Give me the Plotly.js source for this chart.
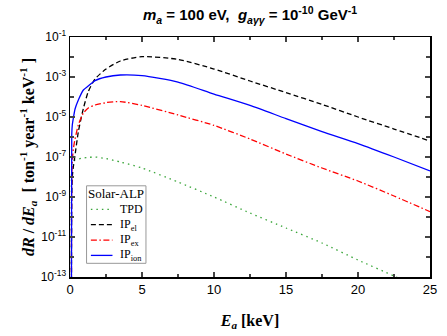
<!DOCTYPE html>
<html>
<head>
<meta charset="utf-8">
<script src="https://cdn.plot.ly/plotly-3.0.1.min.js"></script>
<style>body{margin:0;padding:0;background:#fff;}#chart{width:447px;height:336px;}</style>
</head>
<body>
<div id="chart"></div>
<script>
// Axion energy E_a [keV]
const energy = [0.1, 0.12, 0.16, 0.23, 0.35, 0.58, 0.93, 1.27, 1.74, 2.5, 3.5, 5, 7.5, 10, 12.5, 15, 17.5, 20, 22.5, 25];
// dR/dE_a [ton^-1 year^-1 keV^-1]
const tpd  = [1e-14, 3.98e-8, 5.62e-8, 6.31e-8, 7.08e-8, 7.94e-8, 8.91e-8, 9.55e-8, 1.0e-7, 8.32e-8, 5.62e-8, 2.82e-8, 5.62e-9, 1.0e-9, 1.58e-10, 2.82e-11, 5.01e-12, 7.08e-13, 1.12e-13, 1.58e-14];
const ipEl = [1e-14, 1e-9, 1e-8, 3.16e-8, 1.26e-7, 1.86e-6, 2.69e-5, 1.86e-4, 7.94e-4, 2.51e-3, 6.31e-3, 1.05e-2, 7.59e-3, 2.51e-3, 6.31e-4, 1.66e-4, 4.27e-5, 1.0e-5, 2.51e-6, 6.31e-7];
const ipEx = [1e-14, 1e-8, 6.31e-8, 2.51e-7, 7.94e-7, 3.98e-6, 1.58e-5, 2.82e-5, 3.98e-5, 5.25e-5, 5.89e-5, 3.8e-5, 1.26e-5, 3.8e-6, 7.94e-7, 1.41e-7, 2.82e-8, 6.31e-9, 1.12e-9, 1.86e-10];
const ipIon = [1e-14, 1.26e-6, 3.98e-6, 8.5e-6, 2.51e-5, 7.08e-5, 2.24e-4, 3.55e-4, 6.61e-4, 1.0e-3, 1.26e-3, 1.17e-3, 5.62e-4, 1.41e-4, 3.8e-5, 8.3e-6, 1.86e-6, 4.68e-7, 1.0e-7, 2.0e-8];

const seriesNames = ["TPD", "IP<sub>el</sub>", "IP<sub>ex</sub>", "IP<sub>ion</sub>"];
const seriesColors = ["#3aa63a", "#000000", "#ff0000", "#0000ff"];
const seriesDash = ["1.5px,4px", "5px,3px", "6px,2.5px,1.5px,2.5px", "solid"];
const legendTitle = "Solar-ALP";
const xTickVals = [0, 5, 10, 15, 20, 25];
const yTickVals = [1e-13, 1e-11, 1e-9, 1e-7, 1e-5, 1e-3, 1e-1];
const yTickText = ["10<sup>-13</sup>", "10<sup>-11</sup>", "10<sup>-9</sup>", "10<sup>-7</sup>", "10<sup>-5</sup>", "10<sup>-3</sup>", "10<sup>-1</sup>"];
const yMinorVals = [1e-12, 1e-10, 1e-8, 1e-6, 1e-4, 1e-2];

const serif = "Liberation Serif, Times New Roman, serif";
const sans = "Liberation Sans, Arial, sans-serif";

const series = [tpd, ipEl, ipEx, ipIon];
const data = series.map((y, i) => ({
  x: energy, y: y, name: seriesNames[i], type: "scatter", mode: "lines",
  line: {color: seriesColors[i], width: 1.3, dash: seriesDash[i], shape: "spline", smoothing: 0.6}
}));

// Hand-placed legend (paper coordinates) to match the compact original box
const shapes = [{
  type: "rect", xref: "paper", yref: "paper", x0: 0.046, x1: 0.211, y0: 0.057, y1: 0.380,
  fillcolor: "#fff", line: {color: "#999", width: 1}, layer: "above"
}];
const annotations = [{
  xref: "paper", yref: "paper", x: 0.129, y: 0.347, xanchor: "center", yanchor: "middle",
  text: legendTitle, showarrow: false, font: {family: serif, size: 13, color: "#000"}
}];
const rowY = [0.282, 0.218, 0.154, 0.090];
seriesNames.forEach((nm, i) => {
  shapes.push({type: "line", xref: "paper", yref: "paper", x0: 0.058, x1: 0.118, y0: rowY[i], y1: rowY[i],
    line: {color: seriesColors[i], width: 1.3, dash: seriesDash[i]}, layer: "above"});
  annotations.push({xref: "paper", yref: "paper", x: 0.132, y: rowY[i], xanchor: "left", yanchor: "middle",
    text: nm, showarrow: false, font: {family: serif, size: 12, color: "#000"}});
});

const layout = {
  width: 447, height: 336,
  margin: {l: 70, r: 17, t: 37, b: 59},
  paper_bgcolor: "#fff", plot_bgcolor: "#fff",
  font: {family: sans, color: "#000", size: 12},
  showlegend: false,
  title: {
    text: "<b><i>m</i><sub><i>a</i></sub> = 100 eV,  <i>g</i><sub><i>aγγ</i></sub> = 10<sup>-10</sup> GeV<sup>-1</sup></b>",
    font: {family: sans, size: 15, color: "#000"},
    x: 0.5, xref: "paper", xanchor: "center",
    y: 0.955, yref: "container", yanchor: "middle"
  },
  xaxis: {
    range: [0, 25], tickvals: xTickVals, ticks: "inside", ticklen: 5, tickwidth: 1.2,
    showline: true, linewidth: 1.5, linecolor: "#000", mirror: "ticks", showgrid: false, zeroline: false,
    tickfont: {family: sans, size: 13},
    minor: {dtick: 2.5, ticks: "inside", ticklen: 3, tickwidth: 1.2, showgrid: false},
    title: {text: "<b><i>E</i><sub><i>a</i></sub> [keV]</b>", font: {family: serif, size: 16}, standoff: 18}
  },
  yaxis: {
    type: "log", range: [-13, -1], tickvals: yTickVals, ticktext: yTickText,
    ticks: "inside", ticklen: 5, tickwidth: 1.2,
    showline: true, linewidth: 1.5, linecolor: "#000", mirror: "ticks", showgrid: false, zeroline: false,
    tickfont: {family: sans, size: 12},
    minor: {tickvals: yMinorVals, ticks: "inside", ticklen: 4, tickwidth: 1.2, showgrid: false},
    title: {text: "<b><i>dR</i> / <i>dE</i><sub><i>a</i></sub>  [ ton<sup>-1</sup> year<sup>-1</sup> keV<sup>-1</sup> ]</b>", font: {family: serif, size: 16}, standoff: 2}
  },
  shapes: shapes,
  annotations: annotations
};

Plotly.newPlot("chart", data, layout, {displayModeBar: false, staticPlot: true});
</script>
</body>
</html>
